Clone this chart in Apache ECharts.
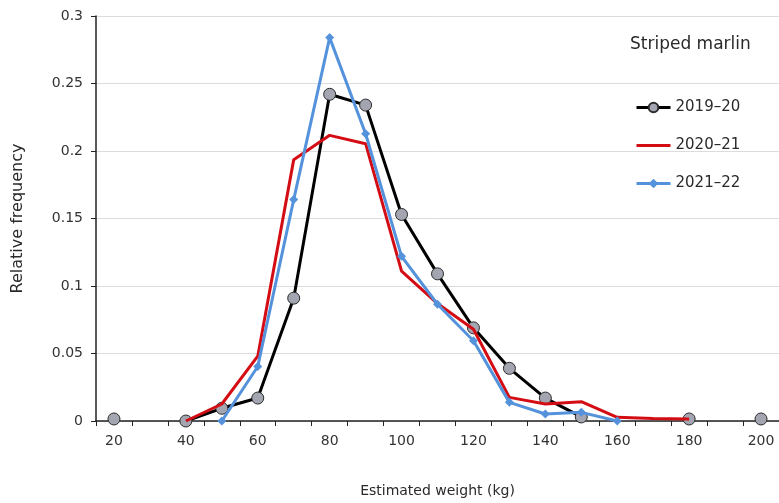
<!DOCTYPE html>
<html>
<head>
<meta charset="utf-8">
<title>Striped marlin</title>
<script src="https://cdn.jsdelivr.net/npm/echarts@6/dist/echarts.min.js"></script>
<style>
  html, body { margin: 0; padding: 0; background: #ffffff; }
  #chart { width: 779px; height: 503px; }
</style>
</head>
<body>
<div id="chart"></div>
<script>
// Weight classes (kg), one category per 10 kg bin
const weightClasses = ['20', '30', '40', '50', '60', '70', '80', '90', '100', '110',
  '120', '130', '140', '150', '160', '170', '180', '190', '200'];

// Relative frequency per weight class for each season (null = no fish recorded)
const season2019 = [0.0015, null, 0, 0.0094, 0.017, 0.091, 0.242, 0.234, 0.153, 0.109,
  0.069, 0.039, 0.017, 0.003, null, null, 0.0015, null, 0.0015];
const season2020 = [null, null, 0, 0.0126, 0.048, 0.1936, 0.2116, 0.2054, 0.111, 0.087,
  0.068, 0.0175, 0.0126, 0.0143, 0.0027, 0.0018, 0.0015, null, null];
const season2021 = [null, null, null, 0, 0.0404, 0.164, 0.284, 0.2128, 0.122, 0.0865,
  0.0594, 0.0138, 0.0052, 0.0064, 0, null, null, null, null];

const seriesNames = ['2019–20', '2020–21', '2021–22'];

const FONT = 'DejaVu Sans';
const TEXT = '#2a2a2a';

const chart = echarts.init(document.getElementById('chart'), null, { renderer: 'canvas' });

chart.setOption({
  animation: false,
  backgroundColor: '#ffffff',
  title: {
    text: 'Striped marlin',
    left: 625,
    top: 31,
    textStyle: { fontFamily: FONT, fontSize: 17, fontWeight: 'normal', color: TEXT }
  },
  legend: {
    orient: 'vertical',
    left: 630,
    top: 95,
    itemWidth: 34,
    itemHeight: 12,
    itemGap: 23,
    lineStyle: { width: 3 },
    data: [
      { name: seriesNames[0] },
      // the 2020–21 key shows the line only
      { name: seriesNames[1], itemStyle: { opacity: 0 } },
      { name: seriesNames[2] }
    ],
    textStyle: { fontFamily: FONT, fontSize: 15, color: TEXT }
  },
  grid: { left: 96, right: -3, top: 16, bottom: 81, containLabel: false },
  xAxis: {
    type: 'category',
    data: weightClasses,
    boundaryGap: true,
    name: 'Estimated weight (kg)',
    nameLocation: 'middle',
    nameGap: 63,
    nameTextStyle: { fontFamily: FONT, fontSize: 14, color: TEXT },
    axisLine: { lineStyle: { color: '#222', width: 1.5 } },
    axisTick: { show: true, interval: 0, alignWithLabel: false, length: 5, lineStyle: { color: '#222' } },
    axisLabel: { interval: 1, margin: 13, fontFamily: FONT, fontSize: 14, color: '#333' },
    splitLine: { show: false }
  },
  yAxis: {
    type: 'value',
    min: 0,
    max: 0.3,
    interval: 0.05,
    name: 'Relative frequency',
    nameLocation: 'middle',
    nameGap: 70,
    nameTextStyle: { fontFamily: FONT, fontSize: 16, color: TEXT },
    axisLine: { show: true, lineStyle: { color: '#222', width: 1.5 } },
    axisTick: { show: true, length: 5, lineStyle: { color: '#222' } },
    axisLabel: { margin: 13, fontFamily: FONT, fontSize: 14, color: '#333' },
    splitLine: { show: true, lineStyle: { color: '#dcdcdc', width: 1 } }
  },
  series: [
    {
      name: seriesNames[0],
      type: 'line',
      data: season2019,
      connectNulls: false,
      symbol: 'circle',
      symbolSize: 12,
      showSymbol: true,
      lineStyle: { color: '#000000', width: 3 },
      itemStyle: { color: '#a3a6b1', borderColor: '#2b2b2b', borderWidth: 1 },
      z: 2
    },
    {
      name: seriesNames[1],
      type: 'line',
      data: season2020,
      connectNulls: false,
      symbol: 'none',
      lineStyle: { color: '#d40d14', width: 3 },
      itemStyle: { color: '#d40d14' },
      z: 3
    },
    {
      name: seriesNames[2],
      type: 'line',
      data: season2021,
      connectNulls: false,
      symbol: 'diamond',
      symbolSize: 9,
      showSymbol: true,
      lineStyle: { color: '#5592dc', width: 3 },
      itemStyle: { color: '#5592dc' },
      z: 4
    }
  ]
});
</script>
</body>
</html>
